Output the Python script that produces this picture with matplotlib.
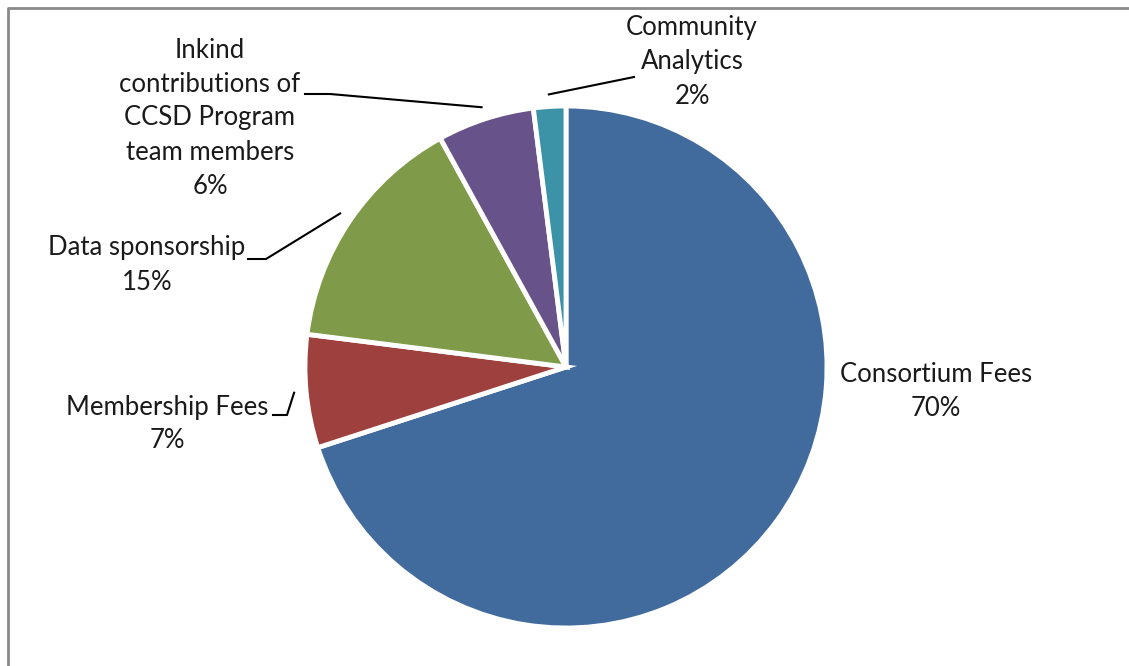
import matplotlib.pyplot as plt
import numpy as np
from matplotlib.lines import Line2D

# data
labels = ['Consortium Fees', 'Membership Fees', 'Data sponsorship',
          'Inkind\ncontributions of\nCCSD Program\nteam members', 'Community\nAnalytics']
shares = [70, 7, 15, 6, 2]
colors = ['#426B9D', '#9E413E', '#7F9A48', '#67538A', '#3C92A6']

W, H = 1129, 666
cx, cy, R = 566, H - 367, 261

fig = plt.figure(figsize=(W / 100, H / 100), dpi=100)
ax = fig.add_axes([0, 0, 1, 1])

explode = [0, 0.035, 0.035, 0.035, 0.035]
wedges, _ = ax.pie(shares, colors=colors, startangle=90, counterclock=False,
                   center=(cx, cy), radius=R, explode=explode,
                   wedgeprops=dict(edgecolor='white', linewidth=3.5))
# pie() resets the limits, so set them afterwards
ax.set_xlim(0, W)
ax.set_ylim(0, H)
ax.set_aspect('equal')
ax.axis('off')

# label text position (centre of text block) and leader line start/elbow
label_pos = [(936, H - 392), (167, H - 424), (147, H - 265), (210, H - 118), (692, H - 62)]
elbows = [None, [(273, H - 415), (287, H - 415)], [(248, H - 259), (266, H - 259)],
          [(305, H - 94), (330, H - 94)], [(634, H - 77)]]

for i, (w, lab, val) in enumerate(zip(wedges, labels, shares)):
    ang = np.deg2rad((w.theta1 + w.theta2) / 2)
    x, y = label_pos[i]
    ax.text(x, y, f'{lab}\n{val}%', ha='center', va='center', fontsize=18.5,
            family='Lato', color='#1a1a1a', linespacing=1.45)
    if elbows[i] is not None:
        r = R * (1 + explode[i]) + 3
        anchor = (cx + r * np.cos(ang), cy + r * np.sin(ang))
        pts = elbows[i] + [anchor]
        ax.plot([p[0] for p in pts], [p[1] for p in pts], color='black', lw=1.5)

# partial frame (left and top edges)
fx, fy = 7.5 / W, 1 - 7.5 / H
fig.add_artist(Line2D([fx, fx, 1], [0, fy, fy], transform=fig.transFigure,
                      color='#8a8a8a', lw=2))

fig.savefig('out.png', dpi=100)
